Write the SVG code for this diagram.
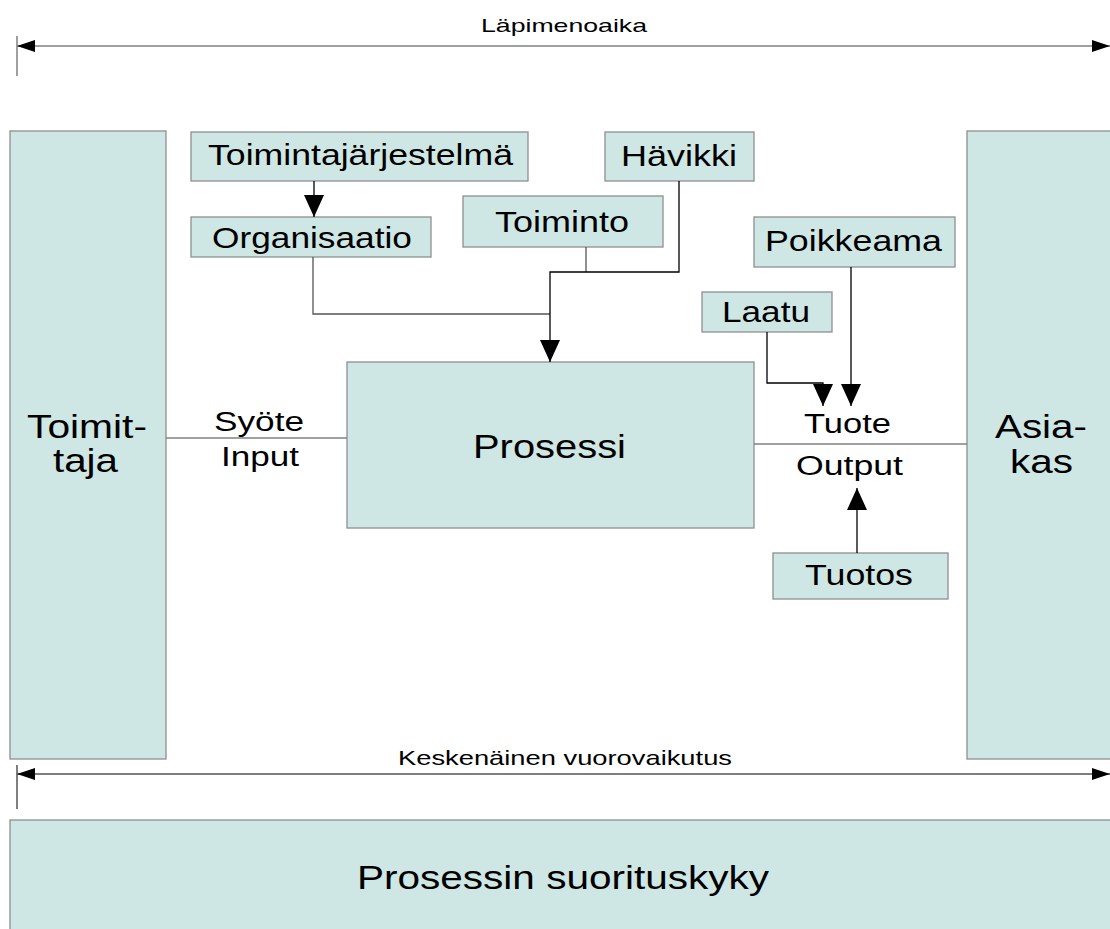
<svg xmlns="http://www.w3.org/2000/svg" width="1110" height="929" viewBox="0 0 1110 929">
  <style>
    .box { fill: #cfe7e4; stroke: #8f8f8f; stroke-width: 1.3; }
    .lbl { font-family: "Liberation Sans", Arial, sans-serif; fill: #000; text-anchor: start; }
    .wire { fill: none; stroke: #555; stroke-width: 1.3; }
    .flow { fill: none; stroke: #000; stroke-width: 1.3; }
    .rule { fill: none; stroke: #808080; stroke-width: 1.5; }
  </style>
  <defs>
    <marker id="head" markerUnits="userSpaceOnUse" markerWidth="23" markerHeight="20" refX="22" refY="10" orient="auto">
      <path d="M0,0 L22,10 L0,20 Z" fill="#000"/>
    </marker>
    <marker id="tip" markerUnits="userSpaceOnUse" markerWidth="19" markerHeight="12" refX="18" refY="6" orient="auto-start-reverse">
      <path d="M0,0 L18,6 L0,12 Z" fill="#000"/>
    </marker>
  </defs>

  <!-- throughput time span -->
  <g id="lapimenoaika">
    <line class="rule" x1="17" y1="36" x2="17" y2="76"/>
    <line class="rule" x1="17" y1="46" x2="1110" y2="46" marker-start="url(#tip)" marker-end="url(#tip)"/>
    <text class="lbl" x="481" y="32" font-size="19" textLength="166" lengthAdjust="spacingAndGlyphs">Läpimenoaika</text>
  </g>

  <!-- supplier -->
  <g id="toimittaja">
    <rect class="box" x="10" y="131" width="156" height="628"/>
    <text class="lbl" x="27" y="438" font-size="33" textLength="120" lengthAdjust="spacingAndGlyphs">Toimit-</text>
    <text class="lbl" x="53" y="472" font-size="33" textLength="65" lengthAdjust="spacingAndGlyphs">taja</text>
  </g>

  <!-- customer -->
  <g id="asiakas">
    <rect class="box" x="967" y="131" width="150" height="628"/>
    <text class="lbl" x="995" y="438" font-size="33" textLength="92" lengthAdjust="spacingAndGlyphs">Asia-</text>
    <text class="lbl" x="1010" y="473" font-size="33" textLength="63" lengthAdjust="spacingAndGlyphs">kas</text>
  </g>

  <g id="toimintajarjestelma">
    <rect class="box" x="191" y="132" width="337" height="49"/>
    <text class="lbl" x="208" y="165" font-size="29" textLength="305" lengthAdjust="spacingAndGlyphs">Toimintajärjestelmä</text>
  </g>

  <g id="organisaatio">
    <rect class="box" x="191" y="217" width="240" height="40"/>
    <text class="lbl" x="212" y="248" font-size="29" textLength="200" lengthAdjust="spacingAndGlyphs">Organisaatio</text>
  </g>

  <g id="toiminto">
    <rect class="box" x="463" y="196" width="200" height="51"/>
    <text class="lbl" x="495" y="232" font-size="29" textLength="134" lengthAdjust="spacingAndGlyphs">Toiminto</text>
  </g>

  <g id="havikki">
    <rect class="box" x="605" y="132" width="149" height="49"/>
    <text class="lbl" x="621" y="166" font-size="29" textLength="116" lengthAdjust="spacingAndGlyphs">Hävikki</text>
  </g>

  <g id="poikkeama">
    <rect class="box" x="754" y="217" width="201" height="50"/>
    <text class="lbl" x="765" y="251" font-size="29" textLength="177" lengthAdjust="spacingAndGlyphs">Poikkeama</text>
  </g>

  <g id="laatu">
    <rect class="box" x="702" y="292" width="130" height="40"/>
    <text class="lbl" x="722" y="322" font-size="29" textLength="88" lengthAdjust="spacingAndGlyphs">Laatu</text>
  </g>

  <g id="prosessi">
    <rect class="box" x="347" y="362" width="407" height="166"/>
    <text class="lbl" x="473" y="458" font-size="33" textLength="153" lengthAdjust="spacingAndGlyphs">Prosessi</text>
  </g>

  <g id="tuotos">
    <rect class="box" x="773" y="553" width="175" height="46"/>
    <text class="lbl" x="805" y="585" font-size="29" textLength="108" lengthAdjust="spacingAndGlyphs">Tuotos</text>
  </g>

  <!-- input / output labels -->
  <g id="syote">
    <text class="lbl" x="214" y="431" font-size="27" textLength="90" lengthAdjust="spacingAndGlyphs">Syöte</text>
    <text class="lbl" x="221" y="466" font-size="27" textLength="78" lengthAdjust="spacingAndGlyphs">Input</text>
  </g>
  <g id="tuote">
    <text class="lbl" x="804" y="433" font-size="27" textLength="87" lengthAdjust="spacingAndGlyphs">Tuote</text>
    <text class="lbl" x="796" y="475" font-size="27" textLength="107" lengthAdjust="spacingAndGlyphs">Output</text>
  </g>

  <!-- interaction span -->
  <g id="vuorovaikutus">
    <line x1="17" y1="765" x2="17" y2="809" stroke="#555" stroke-width="1.5"/>
    <line x1="17" y1="774" x2="1110" y2="774" stroke="#555" stroke-width="1.3" marker-start="url(#tip)" marker-end="url(#tip)"/>
    <text class="lbl" x="398" y="765" font-size="21" textLength="334" lengthAdjust="spacingAndGlyphs">Keskenäinen vuorovaikutus</text>
  </g>

  <g id="suorituskyky">
    <rect class="box" x="10" y="820" width="1110" height="120"/>
    <text class="lbl" x="357" y="889" font-size="33" textLength="412" lengthAdjust="spacingAndGlyphs">Prosessin suorituskyky</text>
  </g>

  <!-- connectors -->
  <g id="connectors">
    <line class="flow" x1="314" y1="181" x2="314" y2="217" marker-end="url(#head)"/>
    <polyline class="wire" points="313,257 313,314 550,314"/>
    <line class="wire" x1="586" y1="247" x2="586" y2="272"/>
    <polyline class="flow" points="679,181 679,272 550,272 550,362" marker-end="url(#head)"/>
    <polyline class="flow" points="767,332 767,383 823,383 823,406" marker-end="url(#head)"/>
    <line class="flow" x1="851" y1="267" x2="851" y2="406" marker-end="url(#head)"/>
    <line class="flow" x1="857" y1="553" x2="857" y2="488" marker-end="url(#head)"/>
    <line class="rule" x1="166" y1="438" x2="347" y2="438"/>
    <line class="rule" x1="754" y1="444" x2="967" y2="444"/>
  </g>
</svg>
